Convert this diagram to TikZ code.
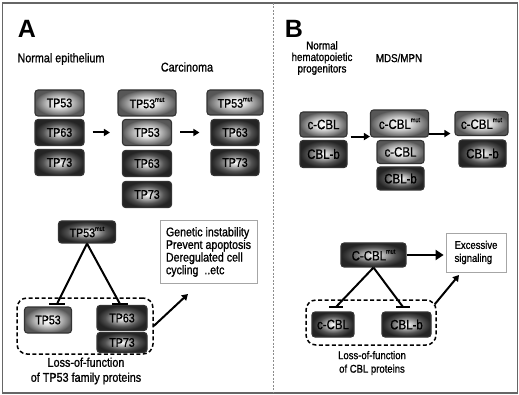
\documentclass[tikz,border=0pt]{standalone}
\usepackage{fontspec}
\setmainfont{Liberation Sans}[FakeStretch=0.85,FakeBold=1.0]
\newfontfamily\headfont{Liberation Sans}
\usetikzlibrary{arrows.meta,calc}

% glow fills for the protein boxes: light centre fading to a grey or dark rim
\pgfdeclareradialshading{lightglow}{\pgfpointorigin}{color(0bp)=(white); color(9bp)=(black!12); color(17bp)=(black!38); color(23bp)=(black!58); color(25bp)=(black!66); color(50bp)=(black!66)}
\pgfdeclareradialshading{darkglow}{\pgfpointorigin}{color(0bp)=(white); color(9bp)=(black!35); color(17bp)=(black!68); color(23bp)=(black!82); color(25bp)=(black!86); color(50bp)=(black!86)}

\newcommand\mutsup{\raisebox{0.5em}{\fontsize{6.5}{6.5}\selectfont mut}}

\tikzset{
  pbox/.style={draw=black!80, line width=1.1pt, rounded corners=3pt, inner sep=0pt,
    minimum width=49pt, minimum height=26pt, font=\fontsize{12.5}{12.5}\selectfont},
  lightbox/.style={pbox, shade, shading=lightglow},
  darkbox/.style={pbox, shade, shading=darkglow},
  bfont/.style={font=\fontsize{13.5}{13.5}\selectfont},
  arr/.style={line width=2pt, -{Triangle[length=6pt,width=7pt]}},
  bigarr/.style={line width=2.6pt, -{Triangle[length=8pt,width=10pt]}},
  conn/.style={line width=2pt},
  tbar/.style={line width=2pt},
  dbox/.style={draw, line width=1.5pt, dash pattern=on 4pt off 2.5pt, rounded corners=10pt, inner sep=0pt},
  tbox/.style={draw=black!35, line width=0.8pt, fill=white, align=left, inner xsep=6pt},
  lblA/.style={font=\fontsize{12.7}{15}\selectfont, align=center},
  lblB/.style={font=\fontsize{11.2}{13.5}\selectfont, align=center},
  head/.style={font=\headfont\bfseries\fontsize{25}{25}\selectfont}
}

\begin{document}
\begin{tikzpicture}[x=1pt,y=-1pt]
\useasboundingbox (0,0) rectangle (519,395);
% frame and divider
\draw[black!60, line width=1.2pt] (2.5,3) rectangle (517.5,393);
\draw[black!45, line width=0.6pt, dash pattern=on 2pt off 1.5pt] (273,3) -- (273,393);

% ---------- panel A ----------
\node[head] (hA) at (27,29) {A};
\node[lblA] (nepi) at (61,59) {Normal epithelium};
\node[lblA] (carc) at (187,67) {Carcinoma};

\node[lightbox] (a1p53) at (59.5,103) {TP53};
\node[darkbox]  (a1p63) at (59.5,132.5) {TP63};
\node[darkbox]  (a1p73) at (59.5,162.5) {TP73};

\node[lightbox, minimum width=58pt] (a2mut) at (147,103) {TP53\mutsup};
\node[lightbox] (a2p53) at (147,132.5) {TP53};
\node[darkbox]  (a2p63) at (147,163.5) {TP63};
\node[darkbox]  (a2p73) at (147,194.5) {TP73};

\node[lightbox, minimum width=56pt, minimum height=25pt] (a3mut) at (235,102.5) {TP53\mutsup};
\node[darkbox, minimum width=48pt] (a3p63) at (235,132.5) {TP63};
\node[darkbox, minimum width=48pt] (a3p73) at (235,162.5) {TP73};

\draw[arr] ([xshift=8]a1p63.east) -- ([xshift=-12]a2p53.west);
\draw[arr] ([xshift=8]a2p53.east) -- ([xshift=-11]a3p63.west);

\node[darkbox, minimum width=57pt, minimum height=22pt] (amut) at (87,232) {TP53\mutsup};
\node[dbox, minimum width=136pt, minimum height=56pt] (abox) at (85,326) {};
\node[lightbox, minimum width=47pt] (al53) at (48,320) {TP53};
\node[darkbox, minimum width=50pt, minimum height=25pt] (al63) at (122,318) {TP63};
\node[darkbox, minimum width=50pt, minimum height=20pt] (al73) at (122,342.5) {TP73};

\coordinate (tA1) at (57,304);
\coordinate (tA2) at (120,304);
\draw[conn] (amut.south) -- (tA1);
\draw[conn] (amut.south) -- (tA2);
\draw[tbar] ([xshift=-8]tA1) -- ([xshift=8]tA1);
\draw[tbar] ([xshift=-8]tA2) -- ([xshift=8]tA2);

\node[tbox, inner ysep=7pt, font=\fontsize{12.5}{11}\selectfont] (gen) at (208.5,252)
  {Genetic instability\\Prevent apoptosis\\Deregulated cell\\cycling \ ..etc};
\coordinate (genin) at (188,294);
\draw[arr] (abox.east) -- (genin);

\node[lblA] (lossA) at (86,371) {Loss-of-function\\of TP53 family proteins};

% ---------- panel B ----------
\node[head] (hB) at (294,29) {B};
\node[lblB, font=\fontsize{11.5}{11.5}\selectfont] (nhp) at (322,58) {Normal\\hematopoietic\\progenitors};
\node[lblB, font=\fontsize{11.5}{11.5}\selectfont] (mds) at (399,58) {MDS/MPN};

\node[lightbox, bfont, minimum width=47pt, minimum height=25pt] (b1cbl) at (323.5,124.5) {c-CBL};
\node[darkbox, bfont, minimum width=47pt, minimum height=27pt] (b1cblb) at (323.5,154) {CBL-b};

\node[lightbox, bfont, minimum width=58pt, minimum height=27pt] (b2mut) at (399.5,123.5) {c-CBL\mutsup};
\node[lightbox, bfont, minimum width=47pt, minimum height=23pt] (b2cbl) at (400.5,152) {c-CBL};
\node[darkbox, bfont, minimum width=47pt, minimum height=23pt] (b2cblb) at (400.5,178.5) {CBL-b};

\node[lightbox, bfont, minimum width=53pt, minimum height=24pt] (b3mut) at (481.5,123.5) {c-CBL\mutsup};
\node[darkbox, bfont, minimum width=47pt, minimum height=27pt] (b3cblb) at (482.5,153.5) {CBL-b};

\draw[arr] ($(b1cbl.south east)+(3,-1)$) -- ($(b2mut.west |- b1cbl.south east)+(0,-1)$);
\draw[arr] ($(b2mut.south east)+(0,-4)$) -- ($(b3mut.west |- b2mut.south east)+(-4,-4)$);

\node[darkbox, bfont, minimum width=65pt, minimum height=24pt] (bmut) at (373.5,255) {C-CBL\mutsup};
\node[tbox, minimum width=60pt, minimum height=39pt, font=\fontsize{11.2}{13}\selectfont] (exc) at (476,252.5)
  {Excessive\\signaling};
\draw[bigarr] (bmut.east) -- ($(exc.west |- bmut.east)+(-2,0)$);

\node[dbox, minimum width=130pt, minimum height=45pt] (bbox) at (371,322.5) {};
\node[darkbox, bfont, minimum width=42pt, minimum height=25pt] (blcbl) at (333,324.5) {c-CBL};
\node[darkbox, bfont, minimum width=49pt, minimum height=25pt] (blcblb) at (406.5,324.5) {CBL-b};

\coordinate (tB1) at (336,307);
\coordinate (tB2) at (403,307);
\draw[conn] (bmut.south) -- (tB1);
\draw[conn] (bmut.south) -- (tB2);
\draw[tbar] ([xshift=-7]tB1) -- ([xshift=7]tB1);
\draw[tbar] ([xshift=-7]tB2) -- ([xshift=7]tB2);

\coordinate (excin) at (459,275);
\draw[arr] ($(bbox.north east)+(-2,5)$) -- (excin);

\node[lblB] (lossB) at (372,363) {Loss-of-function\\of CBL proteins};
\end{tikzpicture}
\end{document}
